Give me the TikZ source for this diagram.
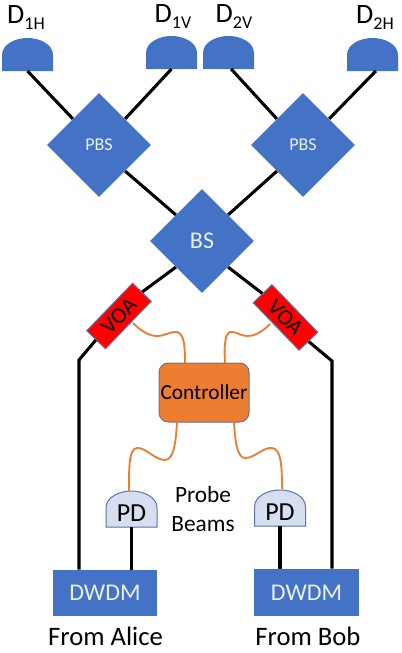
\documentclass[tikz,border=0pt]{standalone}
\usepackage{fontspec}
\setmainfont{Carlito}
\usetikzlibrary{shapes.geometric}

\definecolor{boxblue}{HTML}{4472C4}
\definecolor{edgeblue}{HTML}{5B76A8}
\definecolor{pdblue}{HTML}{D6DFF0}
\definecolor{ctrlorange}{HTML}{ED7D31}
\definecolor{ctrledge}{HTML}{70708C}
\definecolor{labelwhite}{HTML}{EAF0FA}

\newcommand{\fsize}[1]{\fontsize{#1}{#1}\selectfont}
\newcommand{\detlabel}[1]{\fsize{21}D\raisebox{-4.5pt}{\fsize{13.5}#1}}

% name, centre x, bottom y, side height, path style, text
\newcommand{\dome}[6]{%
  \begin{scope}[shift={(#2,#3)}]
    \path[#5] (-25.5,0) -- (-25.5,-#4)
      .. controls (-25.5,{-#4-11}) and (-12,{-#4-17}) .. (0,{-#4-17})
      .. controls (12,{-#4-17}) and (25.5,{-#4-11}) .. (25.5,-#4)
      -- (25.5,0) -- cycle;
    \node[anchor=south,inner sep=0pt,minimum width=38.25pt,minimum height=21pt,pdfont] (#1) at (0,0) {#6};
  \end{scope}}

\tikzset{
  pdfont/.style={font=\fsize{19.5}},
  splitter/.style={diamond,fill=boxblue,inner sep=0pt,minimum width=78pt,minimum height=78pt,text=labelwhite},
  voabox/.style={rectangle,fill=red,draw=edgeblue,line width=0.75pt,inner sep=0pt,minimum width=49.5pt,minimum height=19.5pt,font=\fsize{17}},
  dwdmbox/.style={rectangle,fill=boxblue,inner sep=0pt,minimum height=34.5pt,text=labelwhite,font=\fsize{18}},
  fibre/.style={line width=2.3pt,black},
  wire/.style={line width=1.4pt,ctrlorange},
  txt/.style={inner sep=0pt,anchor=base}
}

\begin{document}
\begin{tikzpicture}[x=0.75pt,y=-0.75pt]
\useasboundingbox (0,0) rectangle (402,653);

        \coordinate (elbowL) at (79,360);
        \coordinate (elbowR) at (332,361);
        \coordinate (wireLa) at (133,323);
        \coordinate (wireLb) at (185,363);
        \coordinate (wireRa) at (270,324);
        \coordinate (wireRb) at (225,363);
        \coordinate (wireLc) at (177,422);
        \coordinate (wireLd) at (129,491);
        \coordinate (wireRc) at (234,422);
        \coordinate (wireRd) at (282,489);

        % Detektory
        \dome{d1h}{27.5}{71}{16}{fill=boxblue}{}
        \dome{d1v}{171.5}{69}{16}{fill=boxblue}{}
        \dome{d2v}{228.5}{69}{16}{fill=boxblue}{}
        \dome{d2h}{372.5}{71}{16}{fill=boxblue}{}

        \node[txt] (l1h) at (26,23) {\detlabel{1H}};
        \node[txt] (l1v) at (173,22) {\detlabel{1V}};
        \node[txt] (l2v) at (234,22) {\detlabel{2V}};
        \node[txt] (l2h) at (375,23) {\detlabel{2H}};

        \node[splitter,font=\fsize{13.5}] (pbsL) at (99,145) {PBS};
        \node[splitter,font=\fsize{13.5}] (pbsR) at (303,145) {PBS};
        \node[splitter,font=\fsize{18}] (bs) at (202,241) {BS};

        \node[voabox,rotate=46] (voaL) at (119,316) {VOA};
        \node[voabox,rotate=-46] (voaR) at (285.5,317.5) {VOA};

        \node[rectangle,rounded corners=7pt,fill=ctrlorange,draw=ctrledge,line width=0.75pt,inner sep=0pt,
              minimum width=67.5pt,minimum height=44.25pt,font=\fsize{16}] (ctrl) at (204,392.5) {Controller};

        \dome{pdL}{131.5}{527}{19}{fill=pdblue,draw=edgeblue,line width=0.75pt}{PD}
        \dome{pdR}{280}{526}{19}{fill=pdblue,draw=edgeblue,line width=0.75pt}{PD}

        \node[dwdmbox,minimum width=78pt] (dwdmL) at (105,593) {DWDM};
        \node[dwdmbox,minimum width=79pt,minimum height=35.25pt] (dwdmR) at (306.5,592.5) {DWDM};

        \node[txt,font=\fsize{17.5}] (probe) at (203,502) {Probe};
        \node[txt,font=\fsize{17.5}] (beams) at (203,531) {Beams};
        \node[txt,font=\fsize{20}] (alice) at (105.5,645) {From Alice};
        \node[txt,font=\fsize{20}] (bob) at (308,645) {From Bob};

        \draw[fibre] (d1h.south) -- (pbsL.north west);
        \draw[fibre] (d1v.south) -- (pbsL.north east);
        \draw[fibre] ([xshift=2pt]d2v.south) -- (pbsR.north west);
        \draw[fibre] ([xshift=2.5pt]d2h.south) -- (pbsR.north east);
        \draw[fibre] (pbsL.south east) -- (bs.north west);
        \draw[fibre] (pbsR.south west) -- (bs.north east);
        \draw[fibre] (bs.south west) -- (voaL.east);
        \draw[fibre] (bs.south east) -- (voaR.west);
        \draw[fibre] (voaL.west) -- (elbowL) -- (elbowL |- dwdmL.north);
        \draw[fibre] (voaR.east) -- (elbowR) -- (elbowR |- dwdmR.north);
        \draw[fibre] (pdL.south) -- (pdL.south |- dwdmL.north);
        \draw[fibre] (pdR.south) -- (pdR.south |- dwdmR.north);

        \draw[wire] (wireLa) .. controls (142,332) and (150,336) .. (157,336)
              .. controls (165,336) and (171,331) .. (177,332)
              .. controls (184,334) and (185,345) .. (wireLb);
        \draw[wire] (wireRa) .. controls (261,333) and (254,336) .. (247,336)
              .. controls (240,336) and (236,331) .. (230,332)
              .. controls (225,334) and (224,345) .. (wireRb);
        \draw[wire] (wireLc) .. controls (176,440) and (174,460) .. (165,460)
              .. controls (155,460) and (145,447) .. (137,448)
              .. controls (129,449) and (129,465) .. (wireLd);
        \draw[wire] (wireRc) .. controls (235,440) and (237,458) .. (245,458)
              .. controls (255,458) and (263,447) .. (272,448)
              .. controls (281,449) and (282,465) .. (wireRd);
\end{tikzpicture}
\end{document}
